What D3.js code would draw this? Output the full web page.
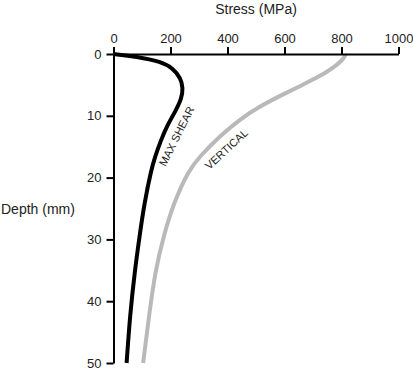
<!DOCTYPE html>
<html><head><meta charset="utf-8">
<script src="https://cdn.jsdelivr.net/npm/d3@7"></script>
<style>body{margin:0;background:#fff}svg{display:block}text{font-family:"Liberation Sans",Arial,sans-serif;fill:#222}</style>
</head><body>
<svg id="c" width="413" height="369"></svg>
<script>
const xTicks = [0, 200, 400, 600, 800, 1000];
const yTicks = [0, 10, 20, 30, 40, 50];
const shearDepth = [0, 0.4, 1.25, 2.3, 3.9, 5.5, 7.2, 9.3, 11.5, 14, 16.6, 18.8, 24.2, 29.6, 35, 42.2, 50];
const shearStress = [0, 80, 168, 208, 236, 244, 239, 217, 189, 166, 146, 132, 108, 91, 75, 58, 46];
const vertDepth = [0, 0.3, 1, 2, 3.1, 4.2, 5.3, 6.6, 8.5, 10.7, 13.1, 16.6, 18.8, 24.2, 29.6, 35, 42.2, 50];
const vertStress = [812, 814, 802, 778, 742, 696, 650, 592, 512, 440, 378, 302, 264, 210, 175, 147, 125, 104];

const svg = d3.select("#c");
const m = {l: 113.5, t: 54, w: 285, h: 309};
const x = d3.scaleLinear().domain([0, 1000]).range([m.l, m.l + m.w]);
const y = d3.scaleLinear().domain([0, 50]).range([m.t, m.t + m.h]);

const line = d3.line().x(d => x(d[1])).y(d => y(d[0])).curve(d3.curveBasis);

svg.append("path").datum(vertDepth.map((d, i) => [d, vertStress[i]]))
  .attr("d", line).attr("fill", "none").attr("stroke", "#b9b9b9").attr("stroke-width", 4);
svg.append("path").datum(shearDepth.map((d, i) => [d, shearStress[i]]))
  .attr("d", line).attr("fill", "none").attr("stroke", "#000").attr("stroke-width", 4);

const xa = svg.append("g").attr("transform", `translate(0,${m.t})`)
  .call(d3.axisTop(x).tickValues(xTicks).tickFormat(d3.format("d")).tickSize(7).tickSizeOuter(0).tickPadding(4));
const ya = svg.append("g").attr("transform", `translate(${m.l},0)`)
  .call(d3.axisLeft(y).tickValues(yTicks).tickSize(7).tickSizeOuter(0).tickPadding(5));
[xa, ya].forEach(a => {
  a.select(".domain").attr("stroke", "#000").attr("stroke-width", 2);
  a.selectAll(".tick line").attr("stroke", "#000").attr("stroke-width", 2);
  a.selectAll(".tick text").style("font-size", "13px").attr("fill", "#222");
});

svg.append("text").attr("x", 256).attr("y", 14).attr("text-anchor", "middle").style("font-size", "14px").text("Stress (MPa)");
svg.append("text").attr("x", 1).attr("y", 214).attr("text-anchor", "start").style("font-size", "14px").text("Depth (mm)");

svg.append("text").attr("transform", "translate(180,138) rotate(-63.5)").attr("text-anchor", "middle").style("font-size", "11px").text("MAX SHEAR");
svg.append("text").attr("transform", "translate(229,152) rotate(-42.5)").attr("text-anchor", "middle").style("font-size", "11px").text("VERTICAL");
</script>
</body></html>
